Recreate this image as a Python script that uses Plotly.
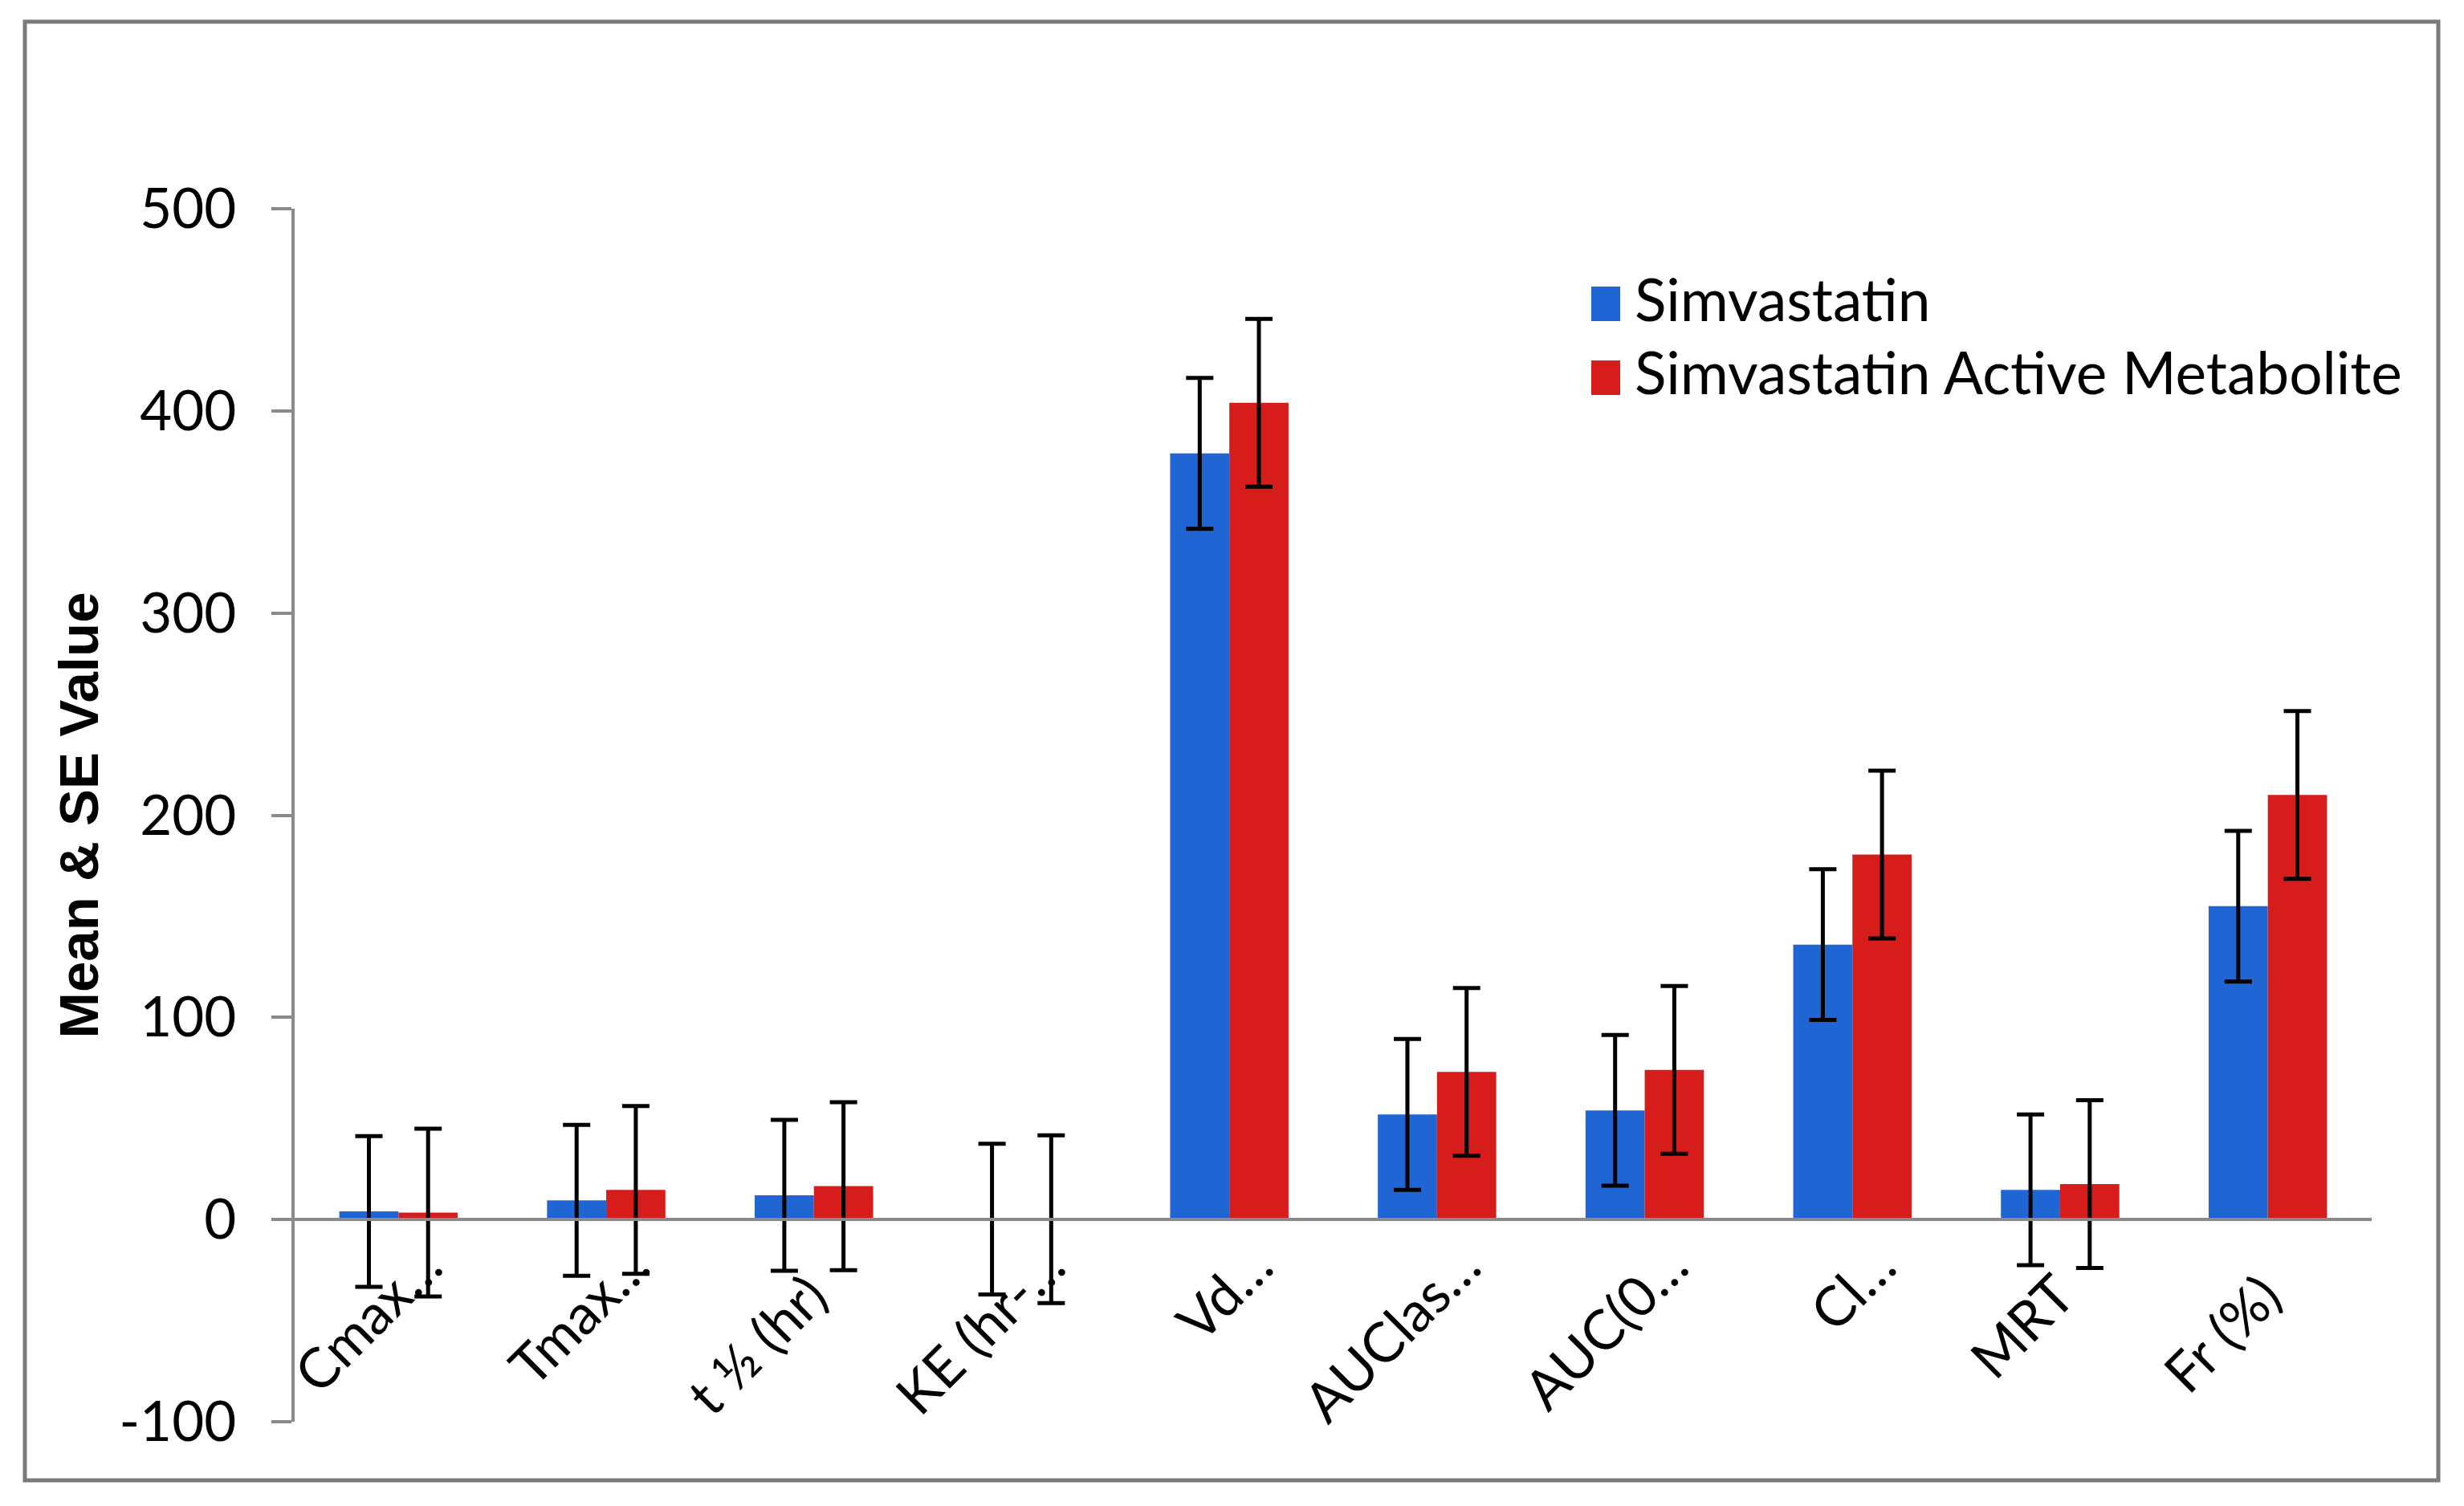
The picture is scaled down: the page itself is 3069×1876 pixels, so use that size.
import plotly.graph_objects as go

categories = ["Cmax…", "Tmax…", "t ½ (hr)", "KE (hr-…", "Vd…", "AUClas…", "AUC(0…", "Cl…", "MRT", "Fr (%)"]
series_names = ["Simvastatin", "Simvastatin Active Metabolite"]
simva_mean = [4.0, 9.5, 12.0, 0.2, 379.0, 52.0, 54.0, 136.0, 14.7, 155.0]
simva_se = [37.3, 37.3, 37.3, 37.3, 37.3, 37.3, 37.3, 37.3, 37.3, 37.3]
metab_mean = [3.4, 14.7, 16.5, 0.2, 404.0, 73.0, 74.0, 180.5, 17.5, 210.0]
metab_se = [41.5, 41.5, 41.5, 41.5, 41.5, 41.5, 41.5, 41.5, 41.5, 41.5]
y_ticks = [-100, 0, 100, 200, 300, 400, 500]
y_ticktext = ["-100", "0", "100", "200", "300", "400", "500"]
y_title = "Mean & SE Value"

colors = ["#1f66d4", "#d71c1c"]

# labels without an ellipsis sit slightly lower/left in the original (Excel layout)
NB = "\u00a0"
x_ticktext = [c if c.endswith("…") else c + NB * 3 for c in categories]

# page body has an 8px margin; work in screen px and convert
OFF = 8
W, H = 3069 - OFF, 1876 - OFF
PL, PR, PT, PB = 367, 2954, 260, 1771   # plot area in screen px
ML, MT = PL - OFF, PT - OFF
MR, MB = W - (PR - OFF), H - (PB - OFF)
PW, PH = PR - PL, PB - PT

def px_x(p):
    return (p - PL) / PW

def px_y(p):
    return (PB - p) / PH

fig = go.Figure()
for name, vals, errs, col in [
    (series_names[0], simva_mean, simva_se, colors[0]),
    (series_names[1], metab_mean, metab_se, colors[1]),
]:
    fig.add_trace(go.Bar(
        x=categories, y=vals, name=name, showlegend=False,
        marker=dict(color=col, line=dict(width=0)),
        error_y=dict(type="data", array=errs, visible=True,
                     color="black", thickness=5, width=17),
    ))

axis_col = "#8a8a8a"
font_main = "Lato"

fig.update_layout(
    width=W, height=H,
    margin=dict(l=ML, r=MR, t=MT, b=MB, autoexpand=False),
    paper_bgcolor="white", plot_bgcolor="white",
    barmode="group", bargap=0.43, bargroupgap=0.0,
    font=dict(family=font_main, size=69, color="black"),
    xaxis=dict(
        type="category", range=[-0.5, 9.5],
        tickvals=categories, ticktext=x_ticktext,
        anchor="free", position=(0 - y_ticks[0]) / (y_ticks[-1] - y_ticks[0]),
        showline=True, linecolor=axis_col, linewidth=4,
        ticks="", showgrid=False, zeroline=False,
        tickangle=-45, tickfont=dict(family=font_main, size=69, color="black"),
        ticklabelstandoff=-12, ticklabelshift=34,
    ),
    yaxis=dict(
        range=[y_ticks[0], y_ticks[-1]], tickvals=y_ticks, ticktext=y_ticktext,
        showline=True, linecolor=axis_col, linewidth=4,
        ticks="outside", ticklen=25, tickwidth=4, tickcolor=axis_col,
        showgrid=False, zeroline=False,
        tickfont=dict(family=font_main, size=69, color="black"),
        ticklabelstandoff=30,
        automargin=True,
        title=dict(text="<b>" + y_title + "</b>",
                   font=dict(family="Liberation Sans", size=69, color="black"),
                   standoff=4),
    ),
)

# outer frame
fig.add_shape(type="rect", xref="paper", yref="paper",
              x0=px_x(31), x1=px_x(3037), y0=px_y(1844), y1=px_y(27),
              line=dict(color="#7a7a7a", width=5), fillcolor="rgba(0,0,0,0)", layer="below")

# legend (custom, larger swatches)
rows = [(357, 400), (449, 492)]
for (top, bot), name, col in zip(rows, series_names, colors):
    fig.add_shape(type="rect", xref="paper", yref="paper",
                  x0=px_x(1982), x1=px_x(2018), y0=px_y(bot), y1=px_y(top),
                  line=dict(width=0), fillcolor=col)
    fig.add_annotation(xref="paper", yref="paper", x=px_x(2034), y=px_y((top + bot) / 2 - 7),
                       text=name, showarrow=False, xanchor="left", yanchor="middle",
                       font=dict(family=font_main, size=73, color="black"))

fig.write_html("out.html")
